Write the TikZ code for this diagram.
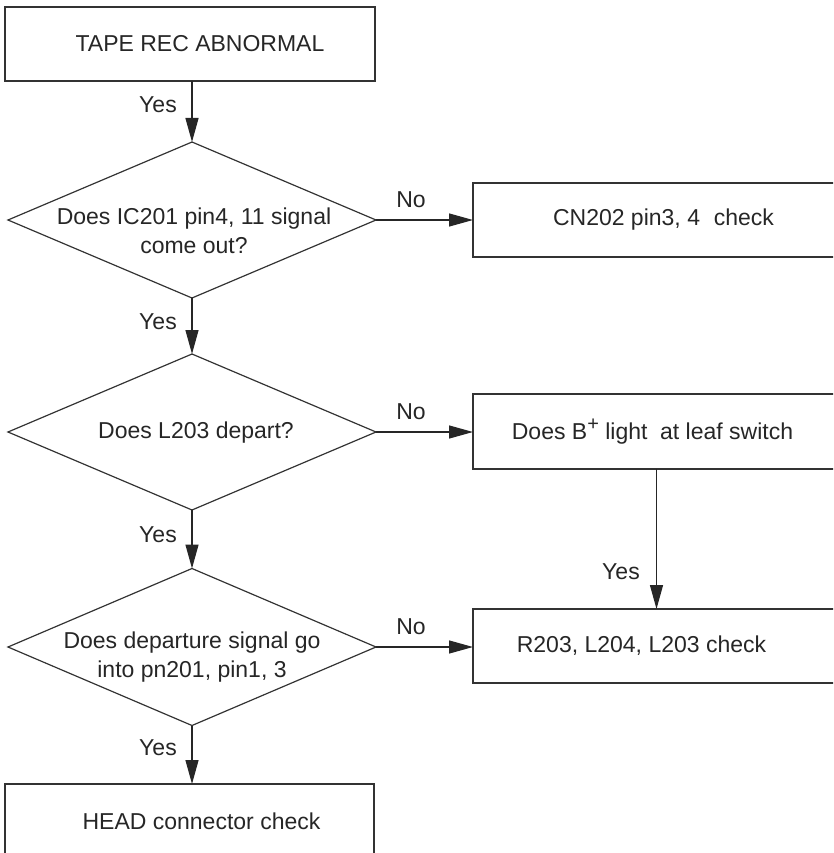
\documentclass[tikz,border=0pt]{standalone}
\usepackage{fontspec}
\setmainfont{Liberation Sans}
\usetikzlibrary{shapes.geometric,arrows.meta,calc}

\begin{document}
\begin{tikzpicture}[x=1pt,y=-1pt,
  every node/.style={font=\fontsize{23}{29}\selectfont, text=black!85, outer sep=0pt},
  box/.style={draw=black!80, line width=1.3pt, rectangle, inner sep=0pt, minimum height=74pt},
  decision/.style={draw=black!80, line width=1.2pt, diamond, inner sep=0pt,
    minimum width=368pt, minimum height=156pt},
  qtext/.style={align=center, inner sep=0pt},
  flow/.style={draw=black!85, line width=1.3pt, -{Triangle[length=24pt,width=13pt]}},
  lbl/.style={inner sep=0pt}
]
\useasboundingbox (0,0) rectangle (833,853);
\clip (0,0) rectangle (833,853);

% process boxes
\node[box, minimum width=370pt] (start) at (190,44) {\hspace*{20pt}TAPE REC ABNORMAL};
\node[box, minimum width=367pt] (r1) at (656.5,220) {\hspace*{14pt}CN202 pin3, 4\hspace{0.6em}check};
\node[box, minimum width=367pt, minimum height=75pt] (r2) at (656.5,431.5)
  {\hspace*{-8pt}Does B\raisebox{0.36em}{\fontsize{20}{20}\selectfont +} light\hspace{0.55em}at leaf switch};
\node[box, minimum width=367pt] (r3) at (656.5,646) {\hspace*{-30pt}R203, L204, L203 check};
\node[box, minimum width=369pt] (head) at (189.5,821) {\hspace*{24pt}HEAD connector check};

% decisions
\node[decision] (d1) at (192,220) {};
\node[qtext] (t1) at (194,231) {Does IC201 pin4, 11 signal\\come out?};
\node[decision] (d2) at (192,432) {};
\node[qtext] (t2) at (196,433) {Does L203 depart?};
\node[decision, minimum height=157pt] (d3) at (192,647) {};
\node[qtext] (t3) at (192,657) {Does departure signal go\\into pn201, pin1, 3};

% connectors
\draw[flow] (start.south -| d1.north) -- (d1.north);
\draw[flow] (d1.south) -- (d2.north);
\draw[flow] (d2.south) -- (d3.north);
\draw[flow] (d3.south) -- (d3.south |- head.north);
\draw[flow] (d1.east) -- (d1.east -| r1.west);
\draw[flow] (d2.east) -- (d2.east -| r2.west);
\draw[flow] (d3.east) -- (d3.east -| r3.west);
\draw[flow] (r2.south) -- (r3.north);

% branch labels
\node[lbl] (y1) at (158,105) {Yes};
\node[lbl] (y2) at (158,322) {Yes};
\node[lbl] (y3) at (158,535) {Yes};
\node[lbl] (y4) at (158,748) {Yes};
\node[lbl] (y5) at (621,572) {Yes};
\node[lbl] (n1) at (411,200) {No};
\node[lbl] (n2) at (411,412) {No};
\node[lbl] (n3) at (411,627) {No};
\end{tikzpicture}
\end{document}
